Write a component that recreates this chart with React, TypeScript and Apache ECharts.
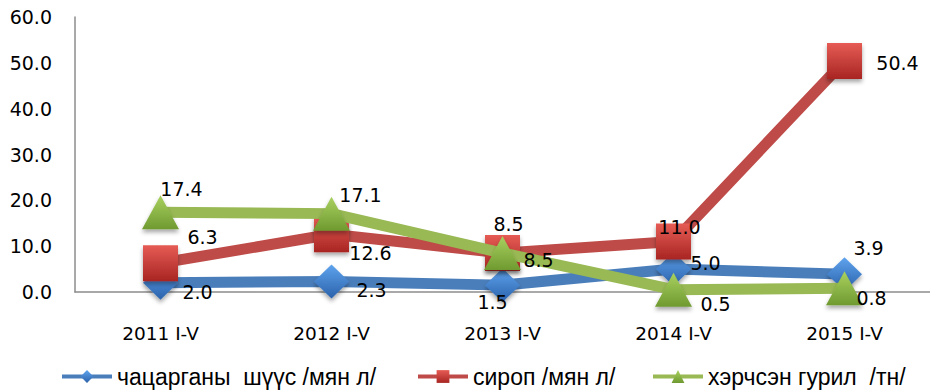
import React, { useEffect, useRef } from "react";
import * as echarts from "echarts";

const categories = ["2011 I-V", "2012 I-V", "2013 I-V", "2014 I-V", "2015 I-V"];
const juiceValues = [2.0, 2.3, 1.5, 5.0, 3.9];
const syrupValues = [6.3, 12.6, 8.5, 11.0, 50.4];
const flourValues = [17.4, 17.1, 8.5, 0.5, 0.8];
const seriesNames = ["чацарганы  шүүс /мян л/", "сироп /мян л/", "хэрчсэн гурил  /тн/"];
const yTicks = { min: 0, max: 60, interval: 10 };

// label offsets (layout only)
const juiceLabelOffsets = [[37, 9], [40, 9], [-10, 17], [32, -6], [24, -26]];
const syrupLabelOffsets = [[42, -26], [39, 19], [6, -29], [6, -15], [53, 2]];
const flourLabelOffsets = [[21, -23], [29, -19], [36, 7], [42, 14], [27, 10]];

const labelFont = "DejaVu Sans";

function grad(top: string, bottom: string) {
  return new echarts.graphic.LinearGradient(0, 0, 0, 1, [
    { offset: 0, color: top },
    { offset: 1, color: bottom },
  ]);
}

function buildData(values: number[], offsets: number[][]) {
  return values.map((v, i) => ({
    value: v,
    label: { offset: offsets[i] },
  }));
}

export default function App() {
  const ref = useRef<HTMLDivElement>(null);
  useEffect(() => {
    if (!ref.current) return;
    const chart = echarts.init(ref.current, undefined, { renderer: "svg" });
    const labelCommon = {
      show: true,
      position: "inside",
      color: "#000",
      fontFamily: labelFont,
      fontSize: 19,
      formatter: (p: any) => Number(p.value).toFixed(1),
    };
    const shadow = {
      shadowColor: "rgba(0,0,0,0.35)",
      shadowBlur: 4,
      shadowOffsetY: 3,
    };
    const legendCommon = {
      itemWidth: 50,
      itemHeight: 16,
      itemGap: 6,
      top: 360,
      textStyle: { fontFamily: "Liberation Sans", fontSize: 23, color: "#000" },
      lineStyle: { width: 4 },
      selectedMode: false,
    };
    chart.setOption({
      animation: false,
      backgroundColor: "#fff",
      grid: { left: 75, right: 0, top: 17, bottom: 99, containLabel: false },
      legend: [
        { ...legendCommon, left: 55, data: [seriesNames[0]] },
        { ...legendCommon, left: 411, data: [seriesNames[1]] },
        { ...legendCommon, left: 646, data: [seriesNames[2]] },
      ],
      xAxis: {
        type: "category",
        data: categories,
        boundaryGap: true,
        axisLine: { lineStyle: { color: "#8c8c8c", width: 1.5 } },
        axisTick: { show: false },
        axisLabel: {
          color: "#000",
          fontFamily: labelFont,
          fontSize: 18.5,
          margin: 32,
        },
      },
      yAxis: {
        type: "value",
        min: yTicks.min,
        max: yTicks.max,
        interval: yTicks.interval,
        axisLine: { show: true, lineStyle: { color: "#8c8c8c", width: 1.5 } },
        axisTick: { show: false },
        splitLine: { show: false },
        axisLabel: {
          color: "#000",
          fontFamily: labelFont,
          fontSize: 19,
          margin: 23,
          formatter: (v: number) => v.toFixed(1),
        },
      },
      series: [
        {
          name: seriesNames[0],
          type: "line",
          data: buildData(juiceValues, juiceLabelOffsets),
          symbol: "diamond",
          symbolSize: [35, 34],
          lineStyle: { color: "#4A7EBB", width: 11 },
          itemStyle: { color: grad("#5fa3ee", "#2b62ab"), ...shadow },
          label: labelCommon,
          z: 2,
        },
        {
          name: seriesNames[1],
          type: "line",
          data: buildData(syrupValues, syrupLabelOffsets),
          symbol: "rect",
          symbolSize: [35, 36],
          lineStyle: { color: "#BE4B48", width: 11 },
          itemStyle: { color: grad("#e65c55", "#a82522"), ...shadow },
          label: labelCommon,
          z: 3,
        },
        {
          name: seriesNames[2],
          type: "line",
          data: buildData(flourValues, flourLabelOffsets),
          symbol: "triangle",
          symbolSize: [37, 34],
          lineStyle: { color: "#98B954", width: 11 },
          itemStyle: { color: grad("#a9d160", "#6f9a30"), ...shadow },
          label: labelCommon,
          z: 4,
        },
      ],
    });
    return () => chart.dispose();
  }, []);
  return (
    <div
      ref={ref}
      style={{ position: "fixed", left: 0, top: 0, width: 930, height: 391, background: "#fff" }}
    />
  );
}
